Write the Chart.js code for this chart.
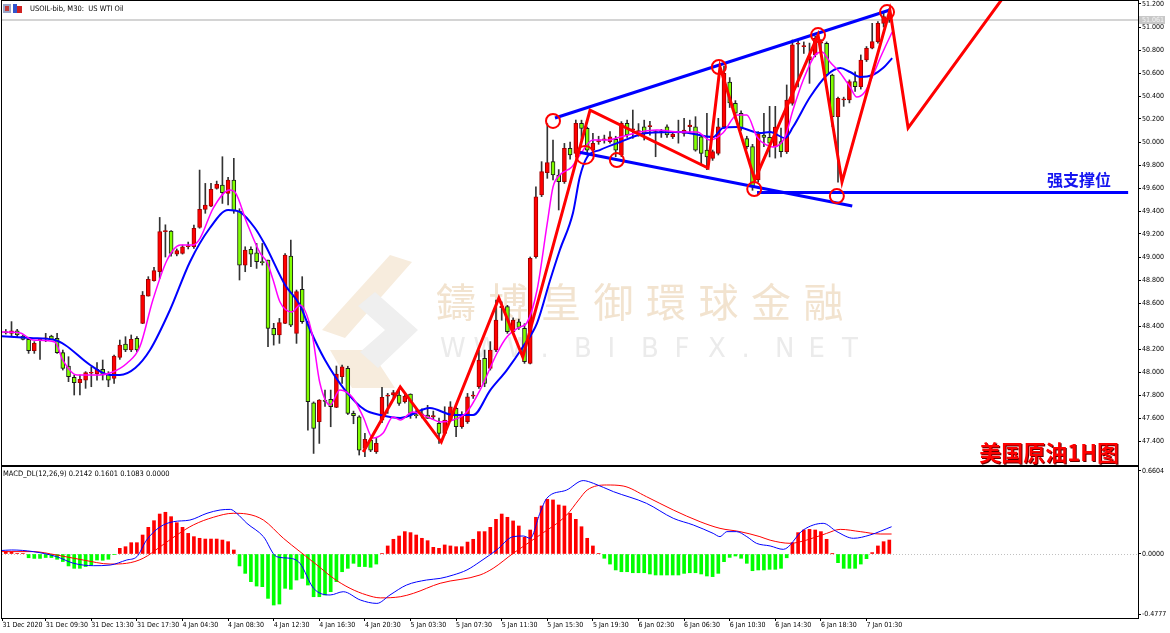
<!DOCTYPE html>
<html>
<head>
<meta charset="utf-8">
<script src="https://cdn.jsdelivr.net/npm/chart.js@4.4.0/dist/chart.umd.min.js"></script>
<style>
  html, body { margin: 0; padding: 0; background: #fff; }
  #wrap { position: relative; width: 1170px; height: 633px; overflow: hidden; background: #fff; }
  #main { position: absolute; left: 0; top: 0; }
  #macd { position: absolute; left: 0; top: 466px; }
</style>
</head>
<body>
<div id="wrap">
  <canvas id="main" width="1170" height="467"></canvas>
  <canvas id="macd" width="1170" height="167"></canvas>
</div>
<script>
// ─────────────────────────────────────────────────────────────
// DATA — USOIL M30 candles (bar index 0 = leftmost bar)
// ─────────────────────────────────────────────────────────────
const opens = [
  48.34, 48.35, 48.336, 48.359, 48.313, 48.284, 48.185, 48.272, 48.290, 48.313,
  48.293, 48.168, 48.052, 47.954, 47.907, 47.930, 47.990, 47.983, 48.023, 47.983,
  47.945, 48.127, 48.243, 48.191, 48.293, 48.423, 48.660, 48.794, 48.872, 49.220,
  49.226, 49.025, 49.031, 49.090, 49.089, 49.257, 49.414, 49.443, 49.597, 49.626,
  49.553, 49.669, 49.400, 48.930, 49.066, 49.037, 48.960, 48.973, 48.379, 48.322,
  48.423, 49.008, 48.336, 48.719, 48.437, 47.733, 47.568, 47.756, 47.762, 47.692,
  47.959, 48.032, 47.640, 47.611, 47.336, 47.408, 47.307, 47.582, 47.790, 47.800,
  47.800, 47.742, 47.809, 47.630, 47.626, 47.626, 47.610, 47.553, 47.466, 47.582,
  47.684, 47.524, 47.568, 47.790, 47.872, 48.119, 48.032, 48.191, 48.560, 48.568,
  48.351, 48.437, 48.379, 48.075, 49.003, 49.539, 49.733, 49.829, 49.713, 49.655,
  49.945, 49.901, 50.162, 50.119, 49.930, 50.003, 50.017, 50.003, 50.023, 49.887,
  50.162, 50.104, 50.090, 50.133, 50.133, 50.080, 50.080, 50.133, 50.046, 50.080,
  50.075, 50.133, 50.133, 50.046, 49.930, 49.858, 49.901, 50.133, 50.520, 50.336,
  50.250, 50.030, 49.960, 49.670, 50.060, 50.040, 49.960, 50.003, 49.916, 50.336,
  50.850, 50.829, 50.713, 50.757, 50.860, 50.858, 50.583, 50.220, 50.365, 50.365,
  50.525, 50.481, 50.713, 50.815, 50.873, 51.032, 51.100
];
const highs = [
  48.36, 48.37, 48.438, 48.371, 48.320, 48.300, 48.264, 48.284, 48.336, 48.320,
  48.336, 48.191, 48.133, 47.974, 47.974, 48.003, 48.046, 48.081, 48.104, 48.003,
  48.148, 48.278, 48.307, 48.322, 48.307, 48.700, 48.829, 48.910, 49.344, 49.280,
  49.230, 49.070, 49.104, 49.130, 49.278, 49.756, 49.640, 49.640, 49.660, 49.872,
  49.692, 49.858, 49.420, 49.089, 49.089, 49.118, 49.118, 48.973, 48.423, 48.466,
  49.030, 49.147, 48.713, 48.829, 48.440, 47.740, 47.760, 47.843, 47.843, 48.052,
  48.061, 48.050, 47.660, 47.620, 47.466, 47.420, 47.423, 47.866, 47.814, 47.840,
  47.860, 47.810, 47.810, 47.670, 47.680, 47.710, 47.660, 47.600, 47.698, 47.742,
  47.710, 47.655, 47.814, 47.830, 48.191, 48.191, 48.264, 48.626, 48.610, 48.580,
  48.470, 48.460, 48.420, 49.000, 49.611, 49.829, 50.160, 50.017, 49.760, 49.988,
  50.000, 50.191, 50.190, 50.130, 50.075, 50.050, 50.060, 50.090, 50.050, 50.177,
  50.190, 50.278, 50.160, 50.190, 50.180, 50.100, 50.110, 50.150, 50.090, 50.190,
  50.206, 50.190, 50.220, 50.060, 50.250, 49.930, 50.206, 50.660, 50.560, 50.360,
  50.270, 50.050, 49.980, 50.090, 50.250, 50.310, 50.310, 50.120, 50.496, 50.887,
  50.887, 50.870, 50.860, 50.920, 50.890, 50.870, 50.590, 50.390, 50.390, 50.540,
  50.610, 50.757, 50.830, 51.032, 51.047, 51.130, 51.160
];
const lows = [
  48.32, 48.33, 48.307, 48.301, 48.280, 48.162, 48.162, 48.110, 48.264, 48.280,
  48.162, 48.017, 47.916, 47.800, 47.800, 47.858, 47.872, 47.930, 47.930, 47.872,
  47.901, 48.110, 48.177, 48.177, 48.177, 48.420, 48.660, 48.790, 48.814, 49.000,
  49.008, 49.010, 49.025, 49.070, 49.075, 49.250, 49.380, 49.437, 49.590, 49.466,
  49.452, 49.380, 48.800, 48.872, 48.916, 48.901, 48.930, 48.220, 48.234, 48.249,
  48.420, 48.394, 48.249, 48.423, 47.495, 47.292, 47.379, 47.700, 47.524, 47.690,
  47.901, 47.630, 47.550, 47.278, 47.263, 47.307, 47.292, 47.560, 47.640, 47.770,
  47.710, 47.730, 47.597, 47.600, 47.600, 47.597, 47.590, 47.379, 47.452, 47.568,
  47.437, 47.510, 47.553, 47.770, 47.858, 47.872, 48.017, 48.177, 48.450, 48.336,
  48.340, 48.370, 48.075, 48.070, 48.990, 49.525, 49.684, 49.670, 49.409, 49.640,
  49.850, 49.872, 50.017, 49.887, 49.920, 49.980, 49.990, 49.990, 49.872, 49.872,
  50.040, 50.032, 50.050, 50.017, 50.060, 49.872, 50.040, 50.040, 50.030, 49.990,
  50.050, 50.075, 49.920, 49.800, 49.760, 49.840, 49.887, 50.120, 50.300, 50.200,
  50.100, 49.940, 49.580, 49.650, 49.960, 49.870, 49.860, 49.870, 49.900, 50.320,
  50.480, 50.770, 50.510, 50.740, 50.800, 50.580, 50.133, 49.650, 50.310, 50.340,
  50.440, 50.460, 50.700, 50.810, 50.860, 51.000, 51.040
];
const closes = [
  48.35, 48.34, 48.359, 48.322, 48.284, 48.185, 48.249, 48.284, 48.298, 48.284,
  48.168, 48.032, 47.959, 47.907, 47.936, 47.994, 47.998, 48.023, 47.974, 47.930,
  48.139, 48.235, 48.191, 48.284, 48.191, 48.669, 48.805, 48.881, 49.220, 49.230,
  49.031, 49.055, 49.089, 49.100, 49.249, 49.414, 49.452, 49.588, 49.631, 49.559,
  49.669, 49.400, 48.930, 49.060, 49.025, 48.959, 48.950, 48.379, 48.322, 48.429,
  49.017, 48.408, 48.700, 48.437, 47.742, 47.510, 47.756, 47.745, 47.698, 47.982,
  48.046, 47.640, 47.620, 47.321, 47.414, 47.321, 47.379, 47.780, 47.800, 47.820,
  47.727, 47.791, 47.640, 47.620, 47.636, 47.597, 47.620, 47.466, 47.582, 47.698,
  47.524, 47.626, 47.785, 47.800, 48.104, 47.901, 48.191, 48.452, 48.570, 48.351,
  48.452, 48.388, 48.090, 48.988, 49.524, 49.742, 49.820, 49.713, 49.655, 49.945,
  49.887, 50.162, 50.119, 49.930, 49.988, 50.013, 50.027, 50.046, 49.930, 50.162,
  50.061, 50.114, 50.100, 50.075, 50.143, 50.090, 50.090, 50.061, 50.069, 50.090,
  50.104, 50.148, 49.930, 49.901, 49.870, 49.916, 50.133, 50.600, 50.340, 50.250,
  50.120, 49.960, 49.610, 50.070, 50.040, 49.990, 50.130, 49.916, 50.365, 50.844,
  50.860, 50.839, 50.742, 50.902, 50.870, 50.583, 50.220, 50.380, 50.375, 50.525,
  50.481, 50.713, 50.815, 50.873, 51.032, 51.090, 51.060
];

// moving averages (bar position, price)
const maFastBars = [0, 3.5, 5.8, 9.6, 11, 13.5, 17.5, 19.8, 22.3, 24.5, 26.8, 29.3, 31.6, 33.8, 35.1, 37.4, 40.3, 41.2, 43.3, 45.6, 46.8, 47.9, 49.1, 51.2, 52.6, 54.7, 56.1, 57.9, 59.6, 61.9, 63.7, 65.4, 67.2, 68.9, 70.2, 72.4, 75.4, 77.2, 79.5, 81.9, 84.2, 87.2, 88.9, 91.2, 92.4, 94.2, 96, 97, 98.2, 100.3, 101.7, 104, 106.5, 108.8, 112.3, 115.2, 119.3, 122.3, 124.5, 126.8, 129.3, 131, 132.8, 134.5, 135.6, 137.7, 139.1, 140.9, 143, 144.2, 145.6, 147.4, 149.1, 150.3, 151.7, 153, 154.4, 156.5];
const maFastVals = [48.348, 48.339, 48.278, 48.261, 48.104, 47.974, 47.974, 48.0, 48.078, 48.217, 48.626, 48.974, 49.104, 49.104, 49.165, 49.426, 49.583, 49.565, 49.296, 49.035, 48.957, 48.8, 48.609, 48.522, 48.583, 48.339, 47.904, 47.713, 47.843, 47.774, 47.609, 47.426, 47.47, 47.609, 47.583, 47.652, 47.6, 47.565, 47.583, 47.652, 47.843, 48.165, 48.304, 48.391, 48.426, 48.713, 49.296, 49.609, 49.713, 49.783, 49.887, 50.017, 50.017, 50.043, 50.087, 50.104, 50.087, 50.087, 50.017, 50.078, 50.235, 50.235, 50.043, 49.974, 49.957, 50.043, 50.278, 50.539, 50.757, 50.783, 50.696, 50.6, 50.478, 50.391, 50.435, 50.565, 50.73, 50.957];
const maSlowBars = [0, 5.3, 9.6, 11.4, 15.8, 19.3, 21, 23.7, 26.3, 29.8, 33.3, 36.8, 40, 42.1, 44.7, 46.5, 50, 52.6, 54.4, 57, 60.5, 64, 66.7, 70.2, 75.4, 79.5, 83, 86, 88.9, 91.7, 94.2, 96.5, 98.2, 100.5, 101.7, 103, 105.2, 108.8, 113.5, 119.3, 125.1, 126.8, 129.3, 133.3, 135.1, 137.7, 139.1, 142.1, 145.1, 147.4, 149.1, 150.9, 153.1, 154.9, 156.5];
const maSlowVals = [48.313, 48.296, 48.278, 48.235, 48.061, 47.974, 47.974, 48.035, 48.191, 48.539, 48.957, 49.252, 49.409, 49.391, 49.252, 49.104, 48.757, 48.583, 48.365, 48.104, 47.843, 47.67, 47.626, 47.6, 47.687, 47.626, 47.626, 47.843, 48.017, 48.217, 48.426, 48.8, 49.061, 49.383, 49.696, 49.87, 49.93, 50.0, 50.078, 50.087, 50.043, 50.122, 50.13, 50.078, 50.087, 50.035, 50.13, 50.391, 50.583, 50.643, 50.609, 50.565, 50.583, 50.643, 50.73];

// hand-drawn analysis: red zigzag, blue channel, support level, circles
const zigBars   = [63.7, 70.2, 77.4, 87.5, 91.7, 103.5, 124.2, 126.3, 132.4, 143.5, 147.7, 156.1, 159.3, 176.3];
const zigPrices = [47.304, 47.87, 47.391, 48.643, 48.13, 50.278, 49.774, 50.652, 49.67, 50.93, 49.652, 51.148, 50.122, 51.278];
const chanTopBars = [97.35, 156.1];
const chanTopPrices = [50.209, 51.148];
const chanLowBars = [101.4, 149.5];
const chanLowPrices = [49.913, 49.443];
const supportBars = [132.8, 197.9];
const supportPrice = 49.561;
const circleBars   = [97.0, 102.6, 108.2, 126.1, 132.3, 143.5, 146.8, 155.6];
const circlePrices = [50.183, 49.887, 49.843, 50.652, 49.591, 50.93, 49.53, 51.13];
const bidPrice = 51.061;

// MACD histogram, one value per bar
const macdHist = [
  0.02, 0.018, 0.015, 0.005, 0.003, -0.03, -0.035, -0.035, -0.028, -0.028,
  -0.042, -0.06, -0.095, -0.114, -0.114, -0.10, -0.088, -0.048, -0.05, -0.042,
  -0.003, 0.045, 0.058, 0.09, 0.09, 0.151, 0.212, 0.265, 0.318, 0.332,
  0.297, 0.249, 0.212, 0.164, 0.138, 0.125, 0.119, 0.119, 0.119, 0.111,
  0.098, 0.032, -0.095, -0.154, -0.22, -0.255, -0.26, -0.353, -0.406, -0.398,
  -0.273, -0.281, -0.207, -0.194, -0.247, -0.34, -0.34, -0.326, -0.30, -0.22,
  -0.141, -0.114, -0.074, -0.10, -0.10, -0.106, -0.08, 0.003, 0.064, 0.117,
  0.143, 0.178, 0.17, 0.151, 0.125, 0.106, 0.053, 0.045, 0.072, 0.064,
  0.058, 0.058, 0.095, 0.117, 0.178, 0.178, 0.212, 0.276, 0.318, 0.292,
  0.263, 0.223, 0.133, 0.191, 0.292, 0.382, 0.435, 0.430, 0.39, 0.382,
  0.324, 0.276, 0.217, 0.125, 0.064, 0.003, -0.034, -0.08, -0.127, -0.141,
  -0.141, -0.149, -0.149, -0.149, -0.159, -0.167, -0.167, -0.167, -0.167, -0.167,
  -0.154, -0.149, -0.149, -0.159, -0.175, -0.18, -0.154, -0.061, -0.027, -0.016,
  -0.034, -0.074, -0.133, -0.127, -0.127, -0.122, -0.122, -0.114, -0.03, 0.09,
  0.17, 0.191, 0.196, 0.191, 0.178, 0.117, 0.002, -0.069, -0.114, -0.114,
  -0.114, -0.08, -0.037, 0.011, 0.064, 0.098, 0.111
];
const macdMainBars = [0, 2, 5.8, 9.9, 12.9, 16.4, 19.3, 22.2, 24, 25.7, 28.1, 30.4, 33.3, 36.3, 38.6, 40.4, 41.5, 43.3, 46.2, 48.5, 50.9, 52.6, 55, 57.9, 60.2, 63.2, 66.1, 68.4, 71.3, 74.8, 77.2, 79.5, 81.9, 84.2, 87.1, 90, 91.8, 93, 94.7, 95.9, 99.4, 102.3, 104.1, 107.6, 113.4, 118.1, 121.6, 125.1, 126.3, 127.5, 129.2, 131, 132.7, 135.1, 137.4, 140.9, 144.4, 146.8, 149.7, 152.6, 156.4];
const macdMainVals = [0.027, 0.032, 0.019, -0.021, -0.074, -0.093, -0.088, -0.048, -0.021, 0.111, 0.217, 0.257, 0.27, 0.324, 0.35, 0.355, 0.324, 0.244, 0.138, -0.021, -0.034, -0.074, -0.273, -0.326, -0.30, -0.366, -0.393, -0.326, -0.247, -0.207, -0.194, -0.167, -0.127, -0.061, 0.032, 0.138, 0.143, 0.125, 0.324, 0.443, 0.509, 0.584, 0.562, 0.496, 0.403, 0.284, 0.231, 0.164, 0.138, 0.178, 0.178, 0.138, 0.085, 0.064, 0.037, 0.191, 0.244, 0.178, 0.125, 0.151, 0.217];
const macdSignalBars = [0, 5.8, 9.9, 14.6, 19.3, 22.2, 25.1, 28.1, 31, 33.9, 37.4, 40.9, 43.3, 46.2, 49.7, 52.6, 55.6, 58.5, 61.4, 64.3, 66.7, 70.2, 72.5, 77.2, 84.2, 86.5, 90, 94.7, 99.4, 101.5, 103, 106.4, 109.3, 113.4, 118.1, 122.8, 126.3, 129.8, 133.3, 135.1, 138.6, 141.5, 145, 147.4, 150.9, 154.4, 156.4];
const macdSignalVals = [0.019, 0.019, -0.008, -0.048, -0.08, -0.074, -0.034, 0.058, 0.151, 0.231, 0.292, 0.324, 0.318, 0.27, 0.125, 0.019, -0.088, -0.194, -0.273, -0.326, -0.349, -0.34, -0.313, -0.233, -0.167, -0.114, 0.005, 0.151, 0.31, 0.43, 0.509, 0.549, 0.541, 0.456, 0.35, 0.257, 0.204, 0.178, 0.138, 0.11, 0.085, 0.111, 0.164, 0.196, 0.178, 0.159, 0.159];

// axes
const priceTicks = [51.2, 51.0, 50.8, 50.6, 50.4, 50.2, 50.0, 49.8, 49.6, 49.4, 49.2, 49.0, 48.8, 48.6, 48.4, 48.2, 48.0, 47.8, 47.6, 47.4];
const macdTicks = [0.6604, 0.0, -0.4777];
const timeLabels = ['31 Dec 2020', '31 Dec 09:30', '31 Dec 13:30', '31 Dec 17:30', '4 Jan 04:30', '4 Jan 08:30', '4 Jan 12:30', '4 Jan 16:30', '4 Jan 20:30', '5 Jan 03:30', '5 Jan 07:30', '5 Jan 11:30', '5 Jan 15:30', '5 Jan 19:30', '6 Jan 02:30', '6 Jan 06:30', '6 Jan 10:30', '6 Jan 14:30', '6 Jan 18:30', '7 Jan 01:30'];
const timeLabelBars = [0.4, 8, 16, 24, 32, 40, 48, 56, 64, 72, 80, 88, 96, 104, 112, 120, 128, 136, 144, 152];

// ─────────────────────────────────────────────────────────────
// STYLE
// ─────────────────────────────────────────────────────────────
const X_MIN = 0.333, X_MAX = 199.63;
const UP = '#ff0000', DOWN = '#80ff00';
const SMALL = '"Liberation Sans Narrow", "DejaVu Sans Condensed", "Liberation Sans", sans-serif';
const AX_FONT = { family: SMALL, size: 7 };
const pts = (xs, ys) => xs.map((x, i) => ({ x, y: Array.isArray(ys) ? ys[i] : ys }));

const frame = {
  id: 'frame',
  afterDraw(c) {
    const { ctx, chartArea: a } = c;
    ctx.save();
    ctx.strokeStyle = '#000';
    ctx.lineWidth = 1;
    ctx.strokeRect(a.left - 0.5, a.top - 0.5, a.right - a.left + 1, a.bottom - a.top + 1);
    ctx.restore();
  }
};

const watermark = {
  id: 'watermark',
  beforeDatasetsDraw(c) {
    const ctx = c.ctx;
    ctx.save();
    // logo
    ctx.fillStyle = '#f7ecdd';
    ctx.beginPath(); ctx.moveTo(390, 255); ctx.lineTo(412, 262); ctx.lineTo(345, 338); ctx.lineTo(322, 330); ctx.closePath(); ctx.fill();
    ctx.beginPath(); ctx.moveTo(330, 350); ctx.lineTo(370, 350); ctx.lineTo(395, 388); ctx.lineTo(352, 388); ctx.closePath(); ctx.fill();
    ctx.fillStyle = '#efefef';
    ctx.beginPath(); ctx.moveTo(375, 292); ctx.lineTo(418, 330); ctx.lineTo(378, 368); ctx.lineTo(360, 352); ctx.lineTo(385, 330); ctx.lineTo(358, 306); ctx.closePath(); ctx.fill();
    // company name
    ctx.fillStyle = '#f2e3cf';
    ctx.font = '40px "Noto Sans CJK TC", sans-serif';
    ctx.textBaseline = 'middle';
    const name = '鑄博皇御環球金融';
    for (let i = 0; i < name.length; i++) ctx.fillText(name[i], 436 + i * 52.5, 302);
    ctx.fillStyle = '#ebebeb';
    ctx.font = '26px "DejaVu Sans", sans-serif';
    const url = 'WWW.BIBFX.NET';
    for (let i = 0; i < url.length; i++) ctx.fillText(url[i], 440 + i * 33.5, 350);
    ctx.restore();
  }
};

const bidLine = {
  id: 'bidLine',
  beforeDatasetsDraw(c) {
    const { ctx, chartArea: a, scales } = c;
    const y = Math.round(scales.y.getPixelForValue(bidPrice));
    ctx.save();
    ctx.fillStyle = '#d4d4d4';
    ctx.fillRect(a.left, y - 1, a.right - a.left, 2);
    ctx.restore();
  },
  afterDraw(c) {
    const { ctx, chartArea: a, scales } = c;
    const y = Math.round(scales.y.getPixelForValue(bidPrice));
    ctx.save();
    ctx.fillStyle = '#c8c8c8';
    ctx.fillRect(a.right + 1, y - 4, 26, 8);
    ctx.fillStyle = '#f4f4f4';
    ctx.font = '7px ' + SMALL;
    ctx.textBaseline = 'middle';
    ctx.fillText(bidPrice.toFixed(3), a.right + 4, y);
    // header
    ctx.fillStyle = '#9aa6c8'; ctx.fillRect(3, 4, 8, 9);
    ctx.fillStyle = '#c23a3a'; ctx.fillRect(5, 6, 4, 5);
    ctx.fillStyle = '#3355cc'; ctx.fillRect(13, 4, 4, 9);
    ctx.fillStyle = '#d02020'; ctx.fillRect(17, 6, 5, 7);
    ctx.fillStyle = '#000';
    ctx.font = '7.5px ' + SMALL;
    ctx.fillText('USOIL-bib, M30:  US WTI Oil', 30, 9);
    ctx.restore();
  }
};

const captions = {
  id: 'captions',
  afterDatasetsDraw(c) {
    const { ctx, chartArea: a, scales } = c;
    ctx.save();
    ctx.textBaseline = 'middle';
    ctx.font = 'bold 16px "Noto Sans CJK SC", sans-serif';
    ctx.fillStyle = '#1414f0';
    ctx.textAlign = 'center';
    ctx.fillText('强支撑位', scales.x.getPixelForValue(189.3), scales.y.getPixelForValue(49.67));
    ctx.font = 'bold 22px "Noto Sans CJK SC", sans-serif';
    ctx.textAlign = 'right';
    ctx.fillStyle = '#600000';
    ctx.fillText('美国原油1H图', a.right - 18, a.bottom - 11);
    ctx.fillStyle = '#ff0000';
    ctx.fillText('美国原油1H图', a.right - 19, a.bottom - 12);
    ctx.restore();
  }
};

// ─────────────────────────────────────────────────────────────
// MAIN PRICE CHART
// ─────────────────────────────────────────────────────────────
const bodies = opens.map((o, i) => ({ x: i, y: [o, closes[i]] }));
const wicks = opens.map((o, i) => ({ x: i, y: [lows[i], highs[i]] }));
const bodyFill = opens.map((o, i) => closes[i] >= o ? UP : DOWN);
const bodyEdge = opens.map((o, i) => closes[i] >= o ? '#a00000' : '#1a1a1a');

new Chart(document.getElementById('main'), {
  type: 'bar',
  data: {
    datasets: [
      { label: 'circles', type: 'line', data: pts(circleBars, circlePrices), showLine: false,
        pointRadius: circleBars.map((b, i) => i === 1 ? 9 : 7), pointBackgroundColor: 'rgba(0,0,0,0)',
        pointBorderColor: '#ff0000', pointBorderWidth: 2, order: 1 },
      { label: 'zigzag', type: 'line', data: pts(zigBars, zigPrices), borderColor: '#ff0000', borderWidth: 3,
        pointRadius: 0, tension: 0, order: 2, borderJoinStyle: 'miter' },
      { label: 'chanTop', type: 'line', data: pts(chanTopBars, chanTopPrices), borderColor: '#0000ff', borderWidth: 3, pointRadius: 0, order: 3 },
      { label: 'chanLow', type: 'line', data: pts(chanLowBars, chanLowPrices), borderColor: '#0000ff', borderWidth: 3, pointRadius: 0, order: 3 },
      { label: 'support', type: 'line', data: pts(supportBars, supportPrice), borderColor: '#0000ff', borderWidth: 3, pointRadius: 0, order: 3 },
      { label: 'maFast', type: 'line', data: pts(maFastBars, maFastVals), borderColor: '#ff00ff', borderWidth: 1.5,
        pointRadius: 0, cubicInterpolationMode: 'monotone', order: 5 },
      { label: 'maSlow', type: 'line', data: pts(maSlowBars, maSlowVals), borderColor: '#0000ff', borderWidth: 2,
        pointRadius: 0, cubicInterpolationMode: 'monotone', order: 6 },
      { label: 'body', data: bodies, backgroundColor: bodyFill, borderColor: bodyEdge, borderWidth: 1,
        borderSkipped: false, barThickness: 4, grouped: false, order: 8, clip: 0 },
      { label: 'wick', data: wicks, backgroundColor: '#333', barThickness: 1, grouped: false, order: 9, clip: 0 }
    ]
  },
  options: {
    responsive: false,
    animation: false,
    events: [],
    layout: { autoPadding: false, padding: { left: 2, top: 1, right: 0, bottom: 2 } },
    plugins: { legend: { display: false }, tooltip: { enabled: false } },
    scales: {
      x: { type: 'linear', min: X_MIN, max: X_MAX, offset: false, display: false },
      y: {
        position: 'right',
        min: 51.2 - (465 - 4) / 115,
        max: 51.2 + 3 / 115,
        afterBuildTicks: s => { s.ticks = priceTicks.map(v => ({ value: v })); },
        afterFit: s => { s.width = 32; s.paddingTop = 0; s.paddingBottom = 0; },
        ticks: { callback: v => Number(v).toFixed(3), font: AX_FONT, color: '#000', padding: 1 },
        grid: { drawOnChartArea: false, tickLength: 3, color: '#000' },
        border: { display: false }
      }
    }
  },
  plugins: [watermark, bidLine, captions, frame]
});

// ─────────────────────────────────────────────────────────────
// MACD SUB-WINDOW
// ─────────────────────────────────────────────────────────────
const macdLabel = {
  id: 'macdLabel',
  beforeDatasetsDraw(c) {
    const { ctx, chartArea: a, scales } = c;
    const y0 = Math.round(scales.y.getPixelForValue(0)) + 0.5;
    ctx.save();
    ctx.strokeStyle = '#c0c0c0';
    ctx.setLineDash([1, 2]);
    ctx.beginPath(); ctx.moveTo(a.left, y0); ctx.lineTo(a.right, y0); ctx.stroke();
    ctx.restore();
  },
  afterDraw(c) {
    const ctx = c.ctx;
    ctx.save();
    ctx.fillStyle = '#000';
    ctx.font = '7.5px ' + SMALL;
    ctx.textBaseline = 'middle';
    ctx.fillText('MACD_DL(12,26,9) 0.2142 0.1601 0.1083 0.0000', 3, 8);
    ctx.restore();
  }
};

new Chart(document.getElementById('macd'), {
  type: 'bar',
  data: {
    datasets: [
      { label: 'MACD', type: 'line', data: pts(macdMainBars, macdMainVals), borderColor: '#0000ff', borderWidth: 1,
        pointRadius: 0, cubicInterpolationMode: 'monotone', order: 1 },
      { label: 'Signal', type: 'line', data: pts(macdSignalBars, macdSignalVals), borderColor: '#ff0000', borderWidth: 1,
        pointRadius: 0, cubicInterpolationMode: 'monotone', order: 2 },
      { label: 'Hist', data: macdHist.map((v, i) => ({ x: i, y: v })), backgroundColor: macdHist.map(v => v >= 0 ? '#ff0000' : '#00ff00'),
        barThickness: 3, order: 3, clip: 0 }
    ]
  },
  options: {
    responsive: false,
    animation: false,
    events: [],
    layout: { autoPadding: false, padding: { left: 2, top: 1, right: 0, bottom: 0 } },
    plugins: { legend: { display: false }, tooltip: { enabled: false } },
    scales: {
      x: {
        type: 'linear', min: X_MIN, max: X_MAX, offset: false,
        afterBuildTicks: s => { s.ticks = timeLabelBars.map(v => ({ value: v })); },
        afterFit: s => { s.height = 15; s.paddingLeft = 0; s.paddingRight = 0; },
        ticks: { callback: (v, i) => timeLabels[i], font: AX_FONT, color: '#000', align: 'start', padding: 0, maxRotation: 0, autoSkip: false },
        grid: { drawOnChartArea: false, tickLength: 3, color: '#000', offset: false },
        border: { display: false }
      },
      y: {
        position: 'right',
        min: -(618 - 554) / 125.7,
        max: (554 - 467) / 125.7,
        afterBuildTicks: s => { s.ticks = macdTicks.map(v => ({ value: v })); },
        afterFit: s => { s.width = 32; s.paddingTop = 0; s.paddingBottom = 0; },
        ticks: { callback: v => Number(v).toFixed(4), font: AX_FONT, color: '#000', padding: 1 },
        grid: { drawOnChartArea: false, tickLength: 3, color: '#000' },
        border: { display: false }
      }
    }
  },
  plugins: [macdLabel, frame]
});
</script>
</body>
</html>
